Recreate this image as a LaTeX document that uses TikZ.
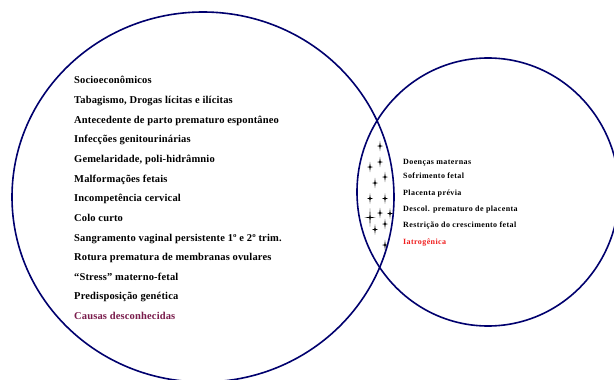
\documentclass[tikz,border=0pt]{standalone}
\usepackage{fontspec}
\setmainfont{Liberation Serif}
\newfontfamily\leftlistfont[LetterSpace=1.5]{Liberation Serif}
\newfontfamily\rightlistfont[LetterSpace=5]{Liberation Serif}
\definecolor{ringblue}{RGB}{0,0,110}
\definecolor{unknowncol}{RGB}{122,28,76}
\definecolor{iatrored}{RGB}{240,30,30}
\tikzset{
  ring/.style={draw=ringblue, line width=1.6pt},
  leftitem/.style={anchor=mid west, inner sep=0pt, font=\leftlistfont\fontsize{10.5}{12}\selectfont\bfseries},
  rightitem/.style={anchor=mid west, inner sep=0pt, font=\rightlistfont\fontsize{8}{9}\selectfont\bfseries},
  pics/sparkle/.style={code={
    \fill[black] (0,-#1*1.7) -- (0.6,-0.6) -- (#1,0) -- (0.6,0.6) -- (0,#1*1.7)
      -- (-0.6,0.6) -- (-#1,0) -- (-0.6,-0.6) -- cycle;
  }}
}
\begin{document}
\begin{tikzpicture}[x=1pt,y=-1pt]
\useasboundingbox (0,0) rectangle (614,380);
\clip (0,0) rectangle (614,380);
\fill[white] (0,0) rectangle (614,380);

% two overlapping sets
\draw[ring] (203,197) ellipse [x radius=191, y radius=185];
\draw[ring] (488,192) ellipse [x radius=131, y radius=134];

% factors of spontaneous preterm birth
\node[leftitem] (l1)  at (74,81.5)  {Socioeconômicos};
\node[leftitem] (l2)  at (74,101.2) {Tabagismo, Drogas lícitas  e ilícitas};
\node[leftitem] (l3)  at (74,120.8) {Antecedente de parto prematuro espontâneo};
\node[leftitem] (l4)  at (74,140.5) {Infecções genitourinárias};
\node[leftitem] (l5)  at (74,160.2) {Gemelaridade, poli-hidrâmnio};
\node[leftitem] (l6)  at (74,179.8) {Malformações fetais};
\node[leftitem] (l7)  at (74,199.5) {Incompetência cervical};
\node[leftitem] (l8)  at (74,218.8) {Colo curto};
\node[leftitem] (l9)  at (74,238.8) {Sangramento vaginal persistente  1º e 2º trim.};
\node[leftitem] (l10) at (74,258.6) {Rotura prematura de membranas ovulares};
\node[leftitem] (l11) at (74,278.3) {“Stress” materno-fetal};
\node[leftitem] (l12) at (74,297.7) {Predisposição genética};
\node[leftitem, text=unknowncol] (l13) at (74,316.8) {Causas desconhecidas};

% factors of indicated preterm birth
\node[rightitem] (r1) at (403,162.3) {Doenças maternas};
\node[rightitem] (r2) at (403,176.2) {Sofrimento fetal};
\node[rightitem] (r3) at (403,193.3) {Placenta prévia};
\node[rightitem] (r4) at (403,209.4) {Descol. prematuro  de placenta};
\node[rightitem] (r5) at (403,225.7) {Restrição do crescimento  fetal};
\node[rightitem, text=iatrored] (r6) at (403,241.8) {Iatrogênica};

% markers in the overlap
\foreach \px/\py in {380/146, 380/162, 370/167, 385/177, 375/183, 370/198.5,
                     385/198.5, 380/213, 390/213.5, 385/224, 375/229.5, 385/245}
  \pic at (\px,\py) {sparkle=3};
\pic at (370,217.5) {sparkle=5.4};
\end{tikzpicture}
\end{document}
